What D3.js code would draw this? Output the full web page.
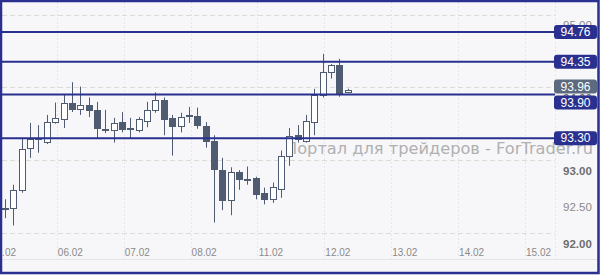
<!DOCTYPE html>
<html>
<head>
<meta charset="utf-8">
<script src="https://cdn.jsdelivr.net/npm/d3@7"></script>
<style>
  html, body { margin: 0; padding: 0; background: #f7f7f9; }
  svg { display: block; font-family: "Liberation Sans", Arial, sans-serif; }
</style>
</head>
<body>
<svg id="chart"></svg>
<script>
/* 3h candles, 8 per trading day */
const dayLabels = ["05.02", "06.02", "07.02", "08.02", "11.02", "12.02", "13.02", "14.02", "15.02"];
const candlesPerDay = 8;

const opens  = [92.32, 92.34, 92.58, 93.16, 93.30, 93.25, 93.52, 93.57, 93.79, 93.70, 93.75, 93.69, 93.43, 93.42,
                93.52, 93.44, 93.42, 93.54, 93.69, 93.83, 93.58, 93.47, 93.62, 93.60, 93.47, 93.26, 92.86, 92.45,
                92.84, 92.74, 92.75, 92.54, 92.46, 92.61, 93.06, 93.34, 93.27, 93.52, 93.90, 94.21, 94.31, 93.93];
const highs  = [92.46, 92.66, 93.30, 93.51, 93.48, 93.62, 93.79, 93.90, 94.07, 94.01, 93.86, 93.80, 93.69, 93.58,
                93.66, 93.58, 93.59, 93.80, 93.93, 93.86, 93.62, 93.65, 93.73, 93.72, 93.52, 93.34, 93.03, 92.90,
                92.86, 92.91, 92.77, 92.62, 92.69, 93.13, 93.44, 93.48, 93.62, 93.98, 94.46, 94.32, 94.39, 93.98];
const lows   = [92.20, 92.10, 92.55, 93.03, 93.10, 93.22, 93.50, 93.44, 93.66, 93.62, 93.59, 93.30, 93.37, 93.24,
                93.38, 93.30, 93.38, 93.45, 93.65, 93.34, 93.06, 93.38, 93.51, 93.43, 93.17, 92.14, 92.31, 92.24,
                92.59, 92.66, 92.46, 92.39, 92.41, 92.48, 92.92, 93.24, 93.24, 93.34, 93.86, 94.12, 93.87, 93.92];
const closes = [92.34, 92.59, 93.15, 93.29, 93.28, 93.52, 93.58, 93.79, 93.71, 93.75, 93.68, 93.44, 93.41, 93.51,
                93.43, 93.42, 93.57, 93.69, 93.83, 93.57, 93.47, 93.59, 93.60, 93.47, 93.26, 92.87, 92.45, 92.84,
                92.74, 92.73, 92.53, 92.46, 92.63, 93.06, 93.33, 93.29, 93.54, 93.89, 94.21, 94.31, 93.93, 93.96];

const levelValues = [94.76, 94.35, 93.90, 93.30];
const lastPrice = 93.96;
const priceTicks = [95.00, 94.50, 94.00, 93.50, 93.00, 92.50, 92.00];
const gridValues = [95, 94, 93, 92];
const watermark = "Портал для трейдеров - ForTrader.ru";

const width = 600, height = 275;
const plotRight = 555;
const navy = "#29308f";
const candleDark = "#4e5b71";

const svg = d3.select("#chart").attr("width", width).attr("height", height);

svg.append("rect").attr("width", width).attr("height", height).attr("fill", "#f7f7f9");

const xScale = d3.scaleLinear().domain([0, dayLabels.length * candlesPerDay - candlesPerDay]).range([5, 540]);
const yScale = d3.scaleLinear().domain([92, 95]).range([232.7, 14.6]);

/* vertical faint grid */
const vGrid = d3.range(1, dayLabels.length).map(k => k * candlesPerDay - 1.8);
svg.append("g").selectAll("line").data(vGrid).join("line")
    .attr("x1", d => Math.round(xScale(d)) + 0.5).attr("x2", d => Math.round(xScale(d)) + 0.5)
    .attr("y1", 2).attr("y2", 259)
    .attr("stroke", "#e6e6ea").attr("stroke-dasharray", "2,2");
svg.append("line")
    .attr("x1", plotRight + 0.5).attr("x2", plotRight + 0.5).attr("y1", 2).attr("y2", 259)
    .attr("stroke", "#e6e6ea").attr("stroke-dasharray", "2,2");

/* horizontal dashed grid */
svg.append("g").selectAll("line").data(gridValues).join("line")
    .attr("x1", 2).attr("x2", plotRight)
    .attr("y1", d => Math.round(yScale(d)) + 0.5).attr("y2", d => Math.round(yScale(d)) + 0.5)
    .attr("stroke", "#dedbd6").attr("stroke-dasharray", "5,3");

/* bottom separator */
svg.append("line").attr("x1", 2).attr("x2", 598).attr("y1", 259.5).attr("y2", 259.5)
    .attr("stroke", "#e4e4e8");

/* watermark */
svg.append("text")
    .attr("x", 285).attr("y", 154)
    .attr("font-size", 16).attr("font-family", "DejaVu Sans, sans-serif")
    .attr("textLength", 308).attr("lengthAdjust", "spacingAndGlyphs")
    .attr("fill", "#b0b0b0")
    .text(watermark);

/* x axis */
const xAxis = d3.axisBottom(xScale)
    .tickValues(dayLabels.map((d, i) => i * candlesPerDay))
    .tickFormat((d, i) => dayLabels[i])
    .tickSize(0);
const xAxisG = svg.append("g").attr("transform", "translate(-2,246)").call(xAxis);
xAxisG.select(".domain").remove();
xAxisG.selectAll("text").attr("fill", "#8a8a8a").attr("font-size", 10).attr("font-family", "Liberation Sans, Arial, sans-serif");

/* price axis */
const yAxis = d3.axisRight(yScale)
    .tickValues(priceTicks)
    .tickFormat(d3.format(".2f"))
    .tickSize(0);
const yAxisG = svg.append("g").attr("transform", "translate(563,0)").call(yAxis);
yAxisG.select(".domain").remove();
yAxisG.selectAll("text")
    .attr("x", 0).attr("dy", "1.25em")
    .attr("font-size", 11.5).attr("font-family", "Liberation Sans, Arial, sans-serif")
    .attr("fill", d => Number.isInteger(d) && d < 95 ? "#6e6e6e" : "#8a8a8a")
    .attr("font-weight", d => Number.isInteger(d) && d < 95 ? "bold" : "normal");

/* candles */
const candles = opens.map((o, i) => ({ i: i, o: o, h: highs[i], l: lows[i], c: closes[i] }));
const candleG = svg.append("g");
candleG.selectAll("line").data(candles).join("line")
    .attr("x1", d => Math.round(xScale(d.i)) + 0.5).attr("x2", d => Math.round(xScale(d.i)) + 0.5)
    .attr("y1", d => yScale(d.h)).attr("y2", d => yScale(d.l))
    .attr("stroke", candleDark).attr("stroke-width", 1);
candleG.selectAll("rect").data(candles).join("rect")
    .attr("x", d => Math.round(xScale(d.i)) - 2.5)
    .attr("width", 6)
    .attr("y", d => Math.round(yScale(Math.max(d.o, d.c))) + 0.5)
    .attr("height", d => Math.max(1, Math.round(Math.abs(yScale(d.o) - yScale(d.c)))))
    .attr("fill", d => d.c >= d.o ? "#ffffff" : candleDark)
    .attr("stroke", candleDark).attr("stroke-width", 1);

/* level lines */
svg.append("g").selectAll("line").data(levelValues).join("line")
    .attr("x1", 2).attr("x2", plotRight)
    .attr("y1", d => yScale(d)).attr("y2", d => yScale(d))
    .attr("stroke", navy).attr("stroke-width", 2);

/* price tags, pushed apart where they overlap */
const boxH = 14;
const tags = levelValues.map(v => ({ v: v, fill: navy, top: yScale(v) - boxH / 2 }))
    .concat([{ v: lastPrice, fill: "#5b6a7e", top: yScale(lastPrice) - boxH / 2 }])
    .sort((a, b) => yScale(a.v) - yScale(b.v));
for (let k = 1; k < tags.length; k++) {
    const up = tags[k - 1], low = tags[k];
    if (low.top < up.top + boxH + 1) {
        low.top = yScale(low.v) + 1;
        up.top = low.top - 2 - boxH;
    }
}
const tagG = svg.append("g").selectAll("g").data(tags).join("g")
    .attr("transform", d => "translate(554," + d.top + ")");
tagG.append("rect").attr("width", 43).attr("height", boxH).attr("rx", 3)
    .attr("fill", d => d.fill);
tagG.append("text").attr("x", 21.5).attr("y", 11).attr("text-anchor", "middle")
    .attr("fill", "#ffffff").attr("font-size", 12)
    .text(d => d3.format(".2f")(d.v));

/* outer frame */
svg.append("rect").attr("x", 1).attr("y", 1).attr("width", width - 2.5).attr("height", height - 3)
    .attr("fill", "none").attr("stroke", navy).attr("stroke-width", 2.5);
</script>
</body>
</html>
